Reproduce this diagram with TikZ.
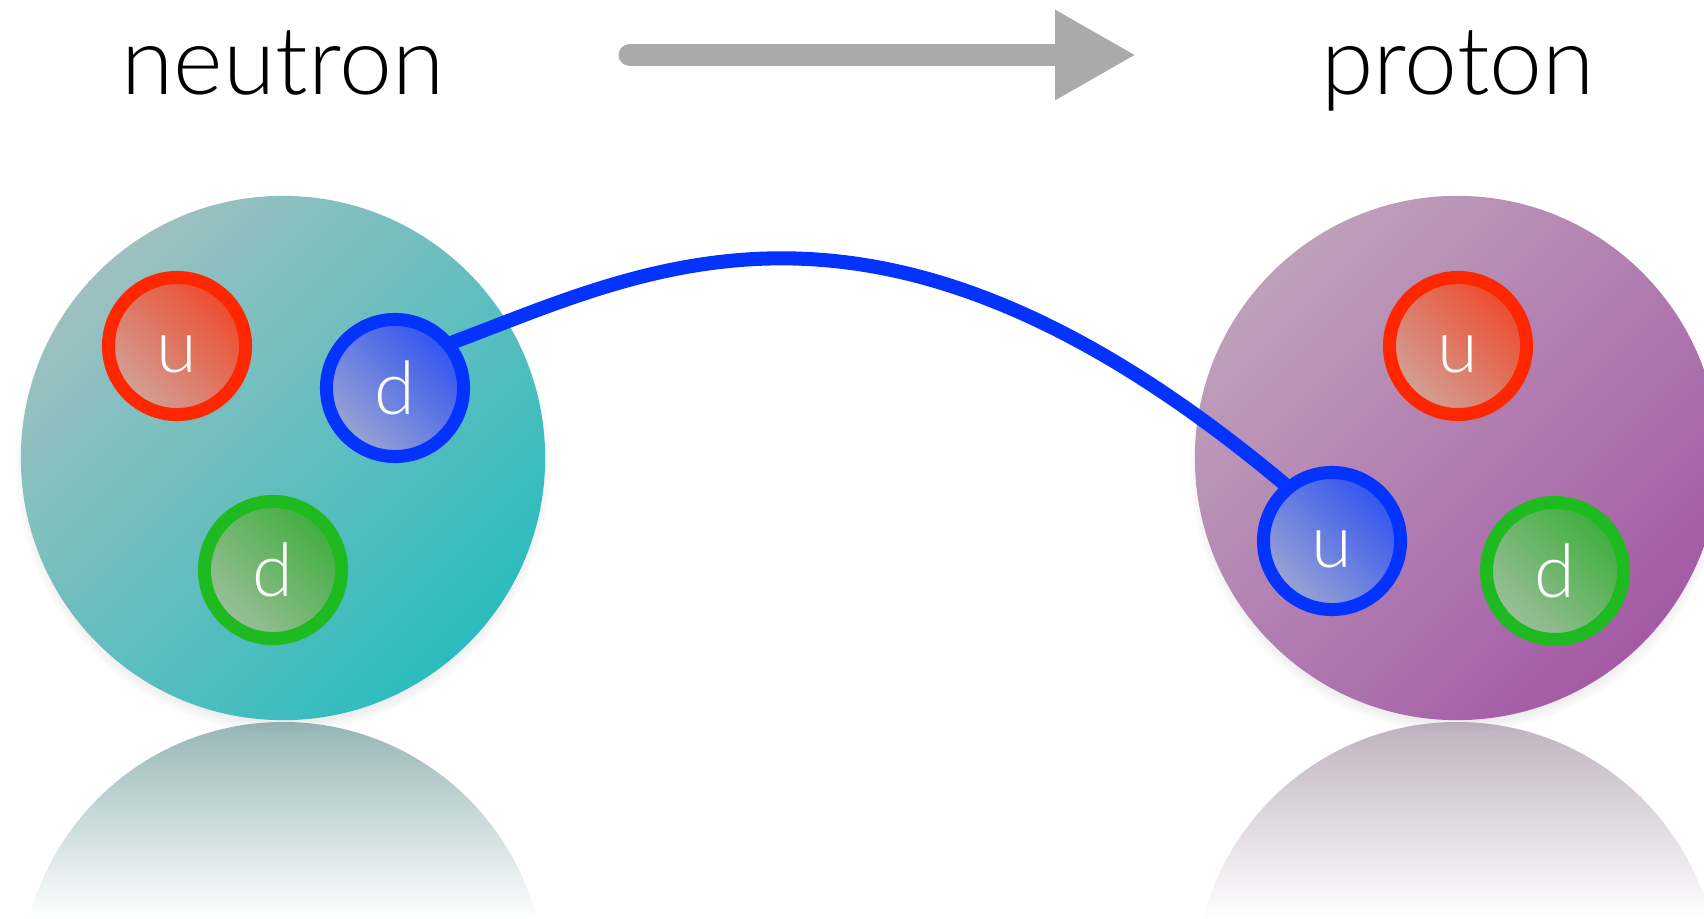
\documentclass[tikz,border=0pt]{standalone}
\usepackage{fontspec}
\setmainfont{Lato Light}
\usetikzlibrary{arrows.meta}
\usetikzlibrary{shadows}
\usetikzlibrary{fadings}

\definecolor{qred}{RGB}{255,38,0}
\definecolor{qredpale}{RGB}{208,162,152}
\definecolor{qredfill}{RGB}{238,74,44}
\definecolor{qblue}{RGB}{4,51,255}
\definecolor{qbluepale}{RGB}{155,165,210}
\definecolor{qbluefill}{RGB}{48,84,240}
\definecolor{qgreen}{RGB}{31,186,31}
\definecolor{qgreenpale}{RGB}{158,190,156}
\definecolor{qgreenfill}{RGB}{62,174,60}
\definecolor{neupale}{RGB}{158,192,192}
\definecolor{neufill}{RGB}{44,188,190}
\definecolor{neumirror}{RGB}{150,182,182}
\definecolor{propale}{RGB}{190,160,186}
\definecolor{profill}{RGB}{164,90,166}
\definecolor{promirror}{RGB}{192,178,192}
\definecolor{arrowgrey}{RGB}{170,170,170}

\tikzset{
  quark/.style={circle, minimum size=1.37cm, inner sep=0pt, line width=3.7pt, draw=#1,
    top color=#1pale, bottom color=#1fill, shading angle=135,
    text=white, font=\fontsize{21}{21}\selectfont, text height=15pt, text depth=0pt,
    circular drop shadow={shadow scale=1.04, shadow xshift=1pt, shadow yshift=-1.5pt, opacity=.35}},
  nucleon/.style={circle, minimum size=5.24cm, inner sep=0pt,
    top color=#1pale, bottom color=#1fill, shading angle=45,
    circular drop shadow={shadow scale=1.02, shadow xshift=0pt, shadow yshift=-2pt, opacity=.45}},
  title/.style={anchor=base, font=\fontsize{27}{27}\selectfont}
}

\begin{document}
\begin{tikzpicture}[x=0.01cm, y=-0.01cm]
  \path[use as bounding box, fill=white] (0,0) rectangle (1704,919);

  % mirror images on the floor
  \begin{scope}
    \clip (283,984) circle (262);
    \shade[top color=neumirror, bottom color=white] (0,722) rectangle (600,919);
  \end{scope}
  \begin{scope}
    \clip (1457,984) circle (262);
    \shade[top color=promirror, bottom color=white] (1150,722) rectangle (1704,919);
  \end{scope}

  % the two nucleons
  \node[nucleon=neu] (neutron) at (283,458) {};
  \node[nucleon=pro] (proton) at (1457,458) {};

  \node[title] (neutronlabel) at (283,95) {neutron};
  \node[title] (protonlabel) at (1458,95) {proton};

  % grey arrow
  \coordinate (arrtail) at (630,55);
  \coordinate (arrtip) at (1136,55);
  \draw[arrowgrey, line width=6.5pt, line cap=round, -{Triangle[length=23pt,width=24pt]}] (arrtail) -- (arrtip);

  % quarks
  \node[quark=qred] (nu) at (177,346) {u};
  \node[quark=qblue] (nd) at (395,388) {d};
  \node[quark=qgreen] (ndd) at (273,570) {d};

  \node[quark=qred] (pu) at (1458,346) {u};
  \node[quark=qblue] (puu) at (1332,541) {u};
  \node[quark=qgreen] (pd) at (1555,571) {d};

  % the d turning into a u
  \draw[qblue, line width=4pt, line cap=round] (nd.38) .. controls (649,269) and (879,145) .. (puu.130);
\end{tikzpicture}
\end{document}
